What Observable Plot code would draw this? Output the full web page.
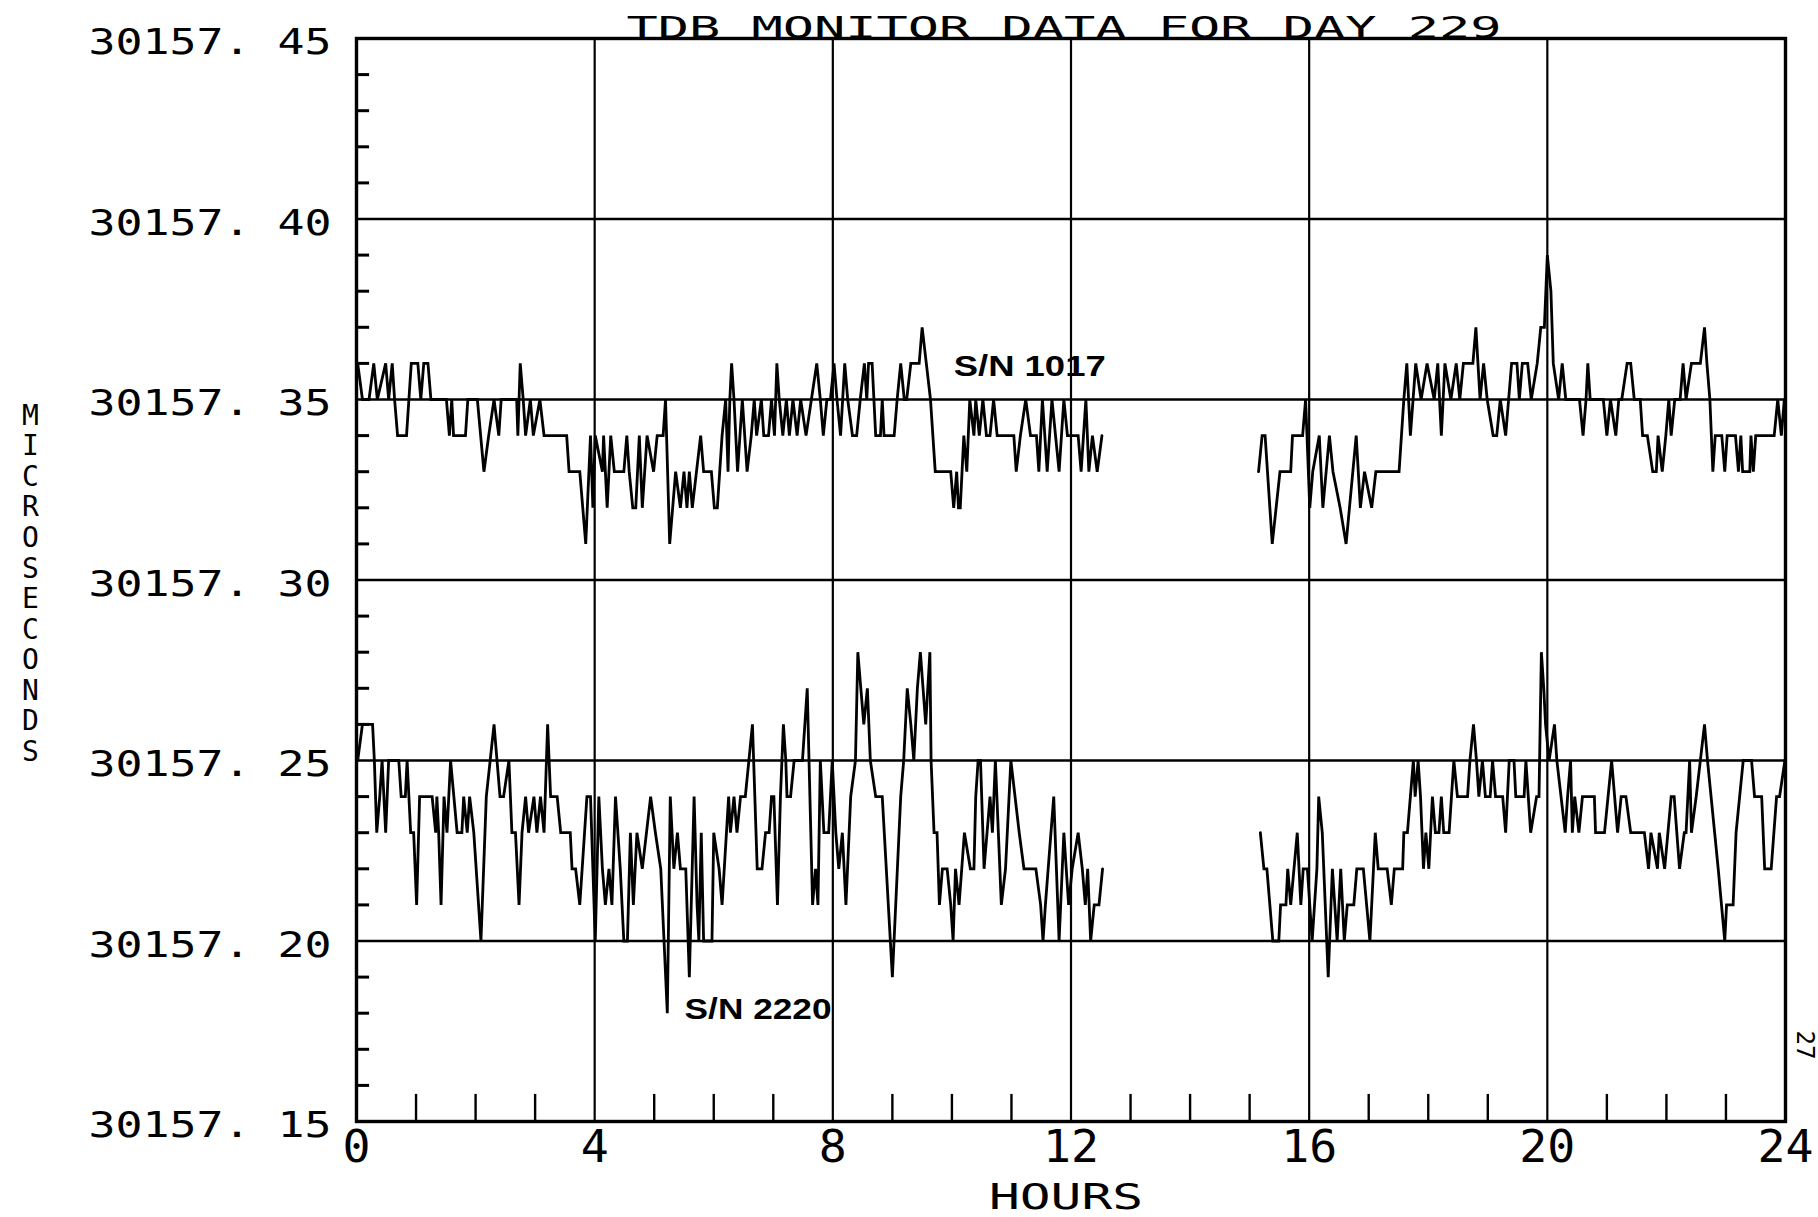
<!DOCTYPE html>
<html><head><meta charset="utf-8">
<script src="https://cdn.jsdelivr.net/npm/d3@7"></script>
<script src="https://cdn.jsdelivr.net/npm/@observablehq/plot@0.6"></script>
<style>
html,body{margin:0;padding:0;background:#fff;}
#chart svg{display:block;}
</style></head><body><div id="chart"></div>
<script>
// ---- Data (hours, value in hundredths of a microsecond above 30157.00) ----
const BASE = 30157;
const hours1017a = [0.02,0.10,0.21,0.29,0.35,0.49,0.54,0.60,0.64,0.69,0.84,0.88,0.92,1.03,1.08,1.13,1.20,1.25,1.51,1.56,1.60,1.63,1.83,1.87,2.03,2.14,2.22,2.31,2.39,2.43,2.69,2.71,2.75,2.80,2.84,2.92,2.97,3.08,3.15,3.53,3.57,3.75,3.85,3.93,3.97,4.01,4.13,4.15,4.21,4.27,4.33,4.49,4.54,4.58,4.64,4.69,4.75,4.80,4.88,4.99,5.05,5.15,5.19,5.26,5.36,5.44,5.50,5.55,5.59,5.64,5.71,5.78,5.83,5.96,6.01,6.06,6.14,6.20,6.24,6.27,6.30,6.34,6.40,6.48,6.56,6.63,6.68,6.72,6.80,6.84,6.92,6.97,7.02,7.06,7.10,7.16,7.22,7.27,7.33,7.40,7.46,7.55,7.64,7.73,7.79,7.84,7.90,7.96,8.02,8.07,8.13,8.20,8.25,8.33,8.40,8.46,8.53,8.57,8.60,8.66,8.72,8.80,8.83,8.86,9.03,9.08,9.14,9.20,9.24,9.31,9.45,9.50,9.57,9.64,9.72,9.98,10.03,10.08,10.11,10.14,10.20,10.25,10.30,10.37,10.40,10.46,10.52,10.58,10.64,10.70,10.76,11.04,11.08,11.15,11.24,11.32,11.42,11.46,11.52,11.60,11.68,11.80,11.88,11.94,12.12,12.17,12.25,12.30,12.36,12.44,12.52];
const level1017a = [36,35,35,36,35,36,35,36,35,34,34,35,36,36,35,36,36,35,35,34,35,34,34,35,35,33,34,35,34,35,35,34,36,35,34,35,34,35,34,34,33,33,31,34,32,34,33,34,32,34,33,33,34,33,32,32,34,32,34,33,34,34,35,31,33,32,33,32,33,32,33,34,33,33,32,32,34,35,33,35,36,35,33,35,33,34,35,34,35,34,34,35,34,36,35,34,35,34,35,34,35,34,35,36,35,34,35,35,36,35,34,36,35,34,34,35,36,35,36,36,34,34,35,34,34,35,36,35,35,36,36,37,36,35,33,33,32,33,32,32,34,33,35,34,35,34,35,34,34,35,34,34,33,34,35,34,34,33,35,33,35,33,35,34,34,33,35,33,34,33,34];

const hours1017b = [15.15,15.21,15.26,15.38,15.51,15.69,15.72,15.89,15.94,16.01,16.06,16.17,16.23,16.34,16.40,16.52,16.62,16.79,16.86,16.93,17.05,17.12,17.51,17.59,17.64,17.70,17.79,17.88,17.98,18.10,18.16,18.22,18.28,18.38,18.47,18.53,18.59,18.75,18.80,18.87,18.93,18.99,19.09,19.15,19.21,19.30,19.35,19.40,19.49,19.53,19.58,19.67,19.73,19.83,19.89,19.95,20.00,20.06,20.10,20.19,20.25,20.31,20.54,20.60,20.65,20.68,20.72,20.94,21.00,21.06,21.15,21.20,21.25,21.34,21.40,21.46,21.56,21.60,21.68,21.77,21.83,21.86,21.93,21.99,22.04,22.08,22.14,22.23,22.28,22.33,22.42,22.57,22.64,22.68,22.73,22.78,22.82,22.93,22.98,23.02,23.16,23.21,23.25,23.28,23.40,23.42,23.46,23.50,23.81,23.87,23.93,23.98];
const level1017b = [33,34,34,31,33,33,34,34,35,32,33,34,32,34,33,32,31,34,32,33,32,33,33,35,36,34,36,35,36,35,36,34,36,35,36,35,36,36,37,35,36,35,34,34,35,34,35,36,36,35,36,36,35,36,37,37,39,38,36,35,36,35,35,34,35,36,35,35,34,35,34,35,35,36,36,35,35,34,34,33,33,34,33,34,35,34,35,35,36,35,36,36,37,36,35,33,34,34,33,34,34,33,34,33,33,34,33,34,34,35,34,35];

const hours2220a = [0.02,0.10,0.27,0.30,0.34,0.39,0.43,0.49,0.54,0.71,0.75,0.82,0.85,0.91,0.96,1.01,1.06,1.27,1.33,1.35,1.38,1.42,1.47,1.52,1.58,1.69,1.77,1.80,1.86,1.90,1.97,2.09,2.18,2.31,2.41,2.47,2.56,2.61,2.67,2.73,2.78,2.84,2.89,2.98,3.03,3.09,3.15,3.19,3.21,3.26,3.37,3.43,3.59,3.62,3.68,3.75,3.87,3.93,4.01,4.07,4.13,4.18,4.24,4.29,4.35,4.43,4.49,4.55,4.60,4.65,4.71,4.80,4.94,5.02,5.11,5.22,5.27,5.33,5.39,5.44,5.53,5.59,5.67,5.72,5.75,5.79,5.83,5.97,6.00,6.09,6.14,6.25,6.28,6.34,6.39,6.45,6.53,6.65,6.67,6.73,6.81,6.87,6.93,6.97,7.01,7.07,7.12,7.17,7.21,7.23,7.29,7.35,7.49,7.57,7.60,7.66,7.71,7.75,7.79,7.85,7.93,7.99,8.05,8.10,8.16,8.22,8.30,8.38,8.42,8.47,8.52,8.58,8.63,8.72,8.83,9.00,9.14,9.19,9.25,9.31,9.36,9.42,9.47,9.56,9.63,9.65,9.70,9.75,9.79,9.84,9.92,9.98,10.02,10.06,10.12,10.21,10.31,10.37,10.40,10.44,10.48,10.54,10.64,10.68,10.73,10.83,10.90,10.99,11.13,11.21,11.41,11.49,11.53,11.57,11.71,11.80,11.88,11.96,12.02,12.12,12.19,12.24,12.28,12.33,12.39,12.47,12.53];
const level2220a = [25,26,26,25,23,24,25,23,25,25,24,24,25,23,23,21,24,24,23,24,23,21,24,23,25,23,23,24,23,24,23,20,24,26,24,24,25,23,23,21,23,24,23,24,23,24,23,25,26,24,24,23,23,22,22,21,24,24,20,24,22,21,22,21,24,22,20,20,23,21,23,22,24,23,22,18,24,22,23,22,22,19,24,21,20,23,20,20,23,22,21,24,23,24,23,24,24,26,25,22,22,23,23,24,24,21,24,26,25,24,24,25,25,27,25,21,22,21,25,23,23,25,23,22,23,21,24,25,28,27,26,27,25,24,24,19,24,25,27,26,25,27,28,26,28,25,23,23,21,22,22,21,20,22,21,23,22,22,24,25,25,22,24,23,25,21,22,25,23,22,22,21,20,21,24,20,23,21,22,23,22,21,22,20,21,21,22];

const hours2220b = [15.18,15.24,15.29,15.39,15.49,15.52,15.61,15.64,15.69,15.80,15.86,15.90,15.97,16.05,16.13,16.16,16.22,16.32,16.39,16.47,16.53,16.59,16.64,16.75,16.80,16.91,17.02,17.11,17.16,17.31,17.38,17.43,17.57,17.59,17.65,17.70,17.75,17.78,17.83,17.87,17.92,17.96,18.01,18.07,18.12,18.18,18.22,18.26,18.35,18.39,18.43,18.49,18.66,18.70,18.76,18.81,18.85,18.91,18.96,19.04,19.08,19.13,19.25,19.30,19.36,19.44,19.47,19.61,19.64,19.72,19.82,19.86,19.90,19.94,19.97,20.03,20.12,20.16,20.30,20.34,20.39,20.42,20.46,20.53,20.59,20.79,20.81,20.96,21.08,21.18,21.24,21.32,21.40,21.63,21.70,21.74,21.85,21.88,21.97,22.08,22.13,22.22,22.30,22.33,22.39,22.42,22.50,22.64,22.69,22.81,22.87,22.98,23.01,23.12,23.17,23.29,23.43,23.48,23.60,23.65,23.76,23.85,23.90,23.99];
const level2220b = [23,22,22,20,20,21,21,22,21,23,21,22,22,20,22,24,23,19,22,20,22,20,21,21,22,22,20,23,22,22,21,22,22,23,23,24,25,24,25,24,22,23,22,24,23,23,24,23,23,24,25,24,24,25,26,25,24,25,24,24,25,24,24,23,25,25,24,24,25,23,24,24,28,27,26,25,26,25,23,24,25,23,24,23,24,24,23,23,25,23,24,24,23,23,22,23,22,23,22,24,24,22,23,23,25,23,24,26,25,23,22,20,21,21,23,25,25,24,24,22,22,24,24,25];

// ---- Axis ticks and labels ----
const yLabelTicks = [30157.15, 30157.20, 30157.25, 30157.30, 30157.35, 30157.40, 30157.45];
const yGridLines = [30157.20, 30157.25, 30157.30, 30157.35, 30157.40];
const yMinorTicks = d3.range(16, 45).filter(k => k % 5 !== 0).map(k => BASE + k / 100);
const xLabelTicks = [0, 4, 8, 12, 16, 20, 24];
const xGridLines = [4, 8, 12, 16, 20];
const xMinorTicks = d3.range(1, 24).filter(h => h % 4 !== 0);

const titleText = "TDB MONITOR DATA FOR DAY 229";
const xTitle = "HOURS";
const yTitle = "MICROSECONDS";
const seriesLabels = [
  {hour: 10.03, value: 30157.359, text: "S/N 1017"},
  {hour: 5.51, value: 30157.181, text: "S/N 2220"}
];
const pageNumber = "27";

// ---- Build rows ----
function seg(name, hrs, lv) {
  return hrs.map((h, i) => ({segment: name, hour: h, value: BASE + lv[i] / 100}));
}
const rows = [
  ...seg("1017a", hours1017a, level1017a),
  ...seg("1017b", hours1017b, level1017b),
  ...seg("2220a", hours2220a, level2220a),
  ...seg("2220b", hours2220b, level2220b)
];

const MONO = "'DejaVu Sans Mono', monospace";
const W = 1818, H = 1217;
const yMin = 30157.15, yMax = 30157.45;
const fmtY = d => d.toFixed(2).replace(".", ". ");

const chart = Plot.plot({
  width: W, height: H,
  marginLeft: 356, marginRight: 33, marginTop: 38, marginBottom: 96,
  style: {background: "white", color: "black", fontFamily: MONO, overflow: "visible"},
  x: {domain: [0, 24], axis: null},
  y: {domain: [yMin, yMax], axis: null},
  marks: [
    Plot.ruleY(yGridLines, {y: d => d, stroke: "black", strokeWidth: 2.4}),
    Plot.ruleX(xGridLines, {x: d => d, stroke: "black", strokeWidth: 2.2}),
    Plot.ruleY(yMinorTicks, {y: d => d, x1: 0, x2: 0.22, stroke: "black", strokeWidth: 3}),
    Plot.ruleX(xMinorTicks, {x: d => d, y1: yMin, y2: yMin + 0.0075, stroke: "black", strokeWidth: 2.4}),
    Plot.line(rows, {x: "hour", y: "value", z: "segment", stroke: "black", strokeWidth: 2.8, strokeLinejoin: "miter", strokeMiterlimit: 3}),
    Plot.frame({stroke: "black", strokeWidth: 3.4}),
    Plot.text(yLabelTicks, {y: d => d, text: fmtY, frameAnchor: "left",
      textAnchor: "end", lineAnchor: "middle", dx: -25, dy: 4, fontSize: 36, fontFamily: MONO, fill: "black"}),
    Plot.text(xLabelTicks, {x: d => d, text: d => String(d), frameAnchor: "bottom",
      lineAnchor: "top", dy: 9, fontSize: 44, fontFamily: MONO, fill: "black"}),
    Plot.text([titleText], {text: d => d, frameAnchor: "top", lineAnchor: "bottom", dy: -1, dx: -7,
      fontSize: 31, fontFamily: MONO, fill: "black"}),
    Plot.text([xTitle], {text: d => d, frameAnchor: "bottom", lineAnchor: "bottom", dy: 87, dx: -5,
      fontSize: 35, fontFamily: MONO, fill: "black"}),
    Plot.text([yTitle.split("").join("\n")], {text: d => d, frameAnchor: "left", textAnchor: "middle",
      lineAnchor: "middle", lineHeight: 1.09, dx: -326, dy: 3, fontSize: 28, fontFamily: MONO, fill: "black"}),
    Plot.text(seriesLabels, {x: "hour", y: "value", text: "text", textAnchor: "start", lineAnchor: "middle",
      fontSize: 29, fontWeight: "bold", fontFamily: "'Liberation Sans', Arial, sans-serif", fill: "black"}),
    Plot.text([pageNumber], {text: d => d, frameAnchor: "bottom-right", dx: 19, dy: -62, rotate: 90,
      lineAnchor: "middle", fontSize: 24, fontFamily: MONO, fill: "black"})
  ]
});

// Stretch plotter-style texts to the reference widths
const yLabelSet = new Set(yLabelTicks.map(fmtY));
const xLabelSet = new Set(xLabelTicks.map(String));
const snWidths = {"S/N 1017": 152, "S/N 2220": 147};
chart.querySelectorAll("text").forEach(t => {
  if (t.querySelector("tspan")) return;
  const s = t.textContent;
  let w = null;
  if (yLabelSet.has(s)) w = s.length * 27;
  else if (xLabelSet.has(s)) w = s.length * 28;
  else if (s === titleText) w = 875;
  else if (s === xTitle) w = 154;
  else if (snWidths[s]) w = snWidths[s];
  if (w != null) {
    t.setAttribute("textLength", w);
    t.setAttribute("lengthAdjust", "spacingAndGlyphs");
  }
});

document.getElementById("chart").appendChild(chart);
</script></body></html>
